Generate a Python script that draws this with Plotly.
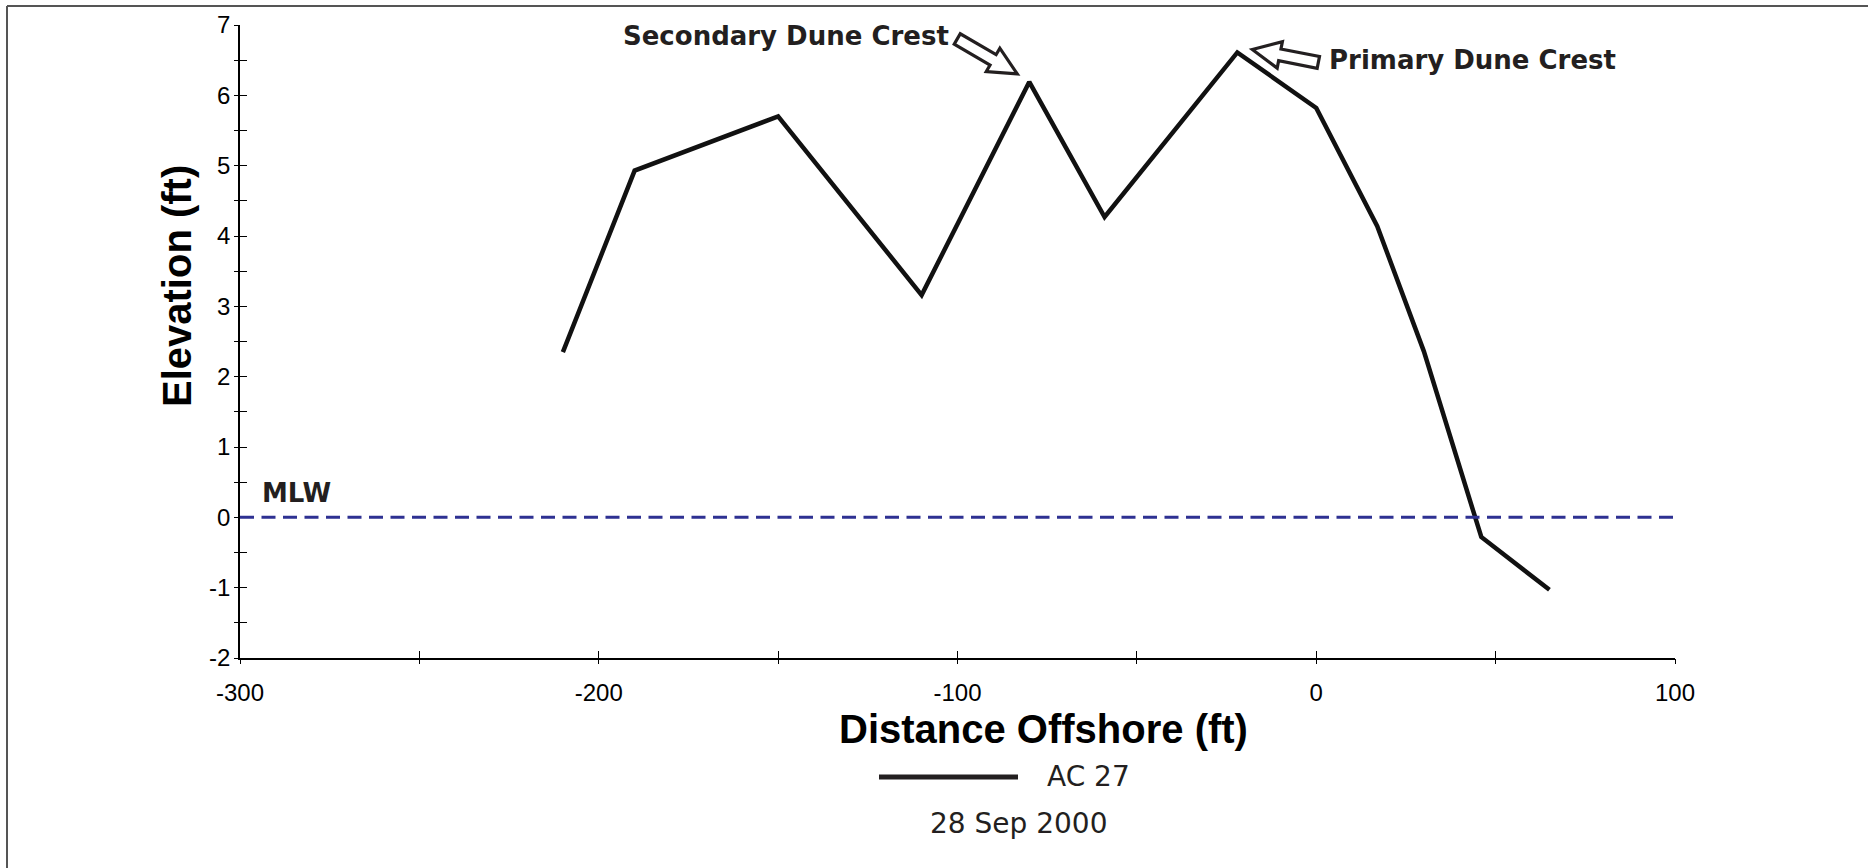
import math
import plotly.graph_objects as go

# profile AC 27, 28 Sep 2000
distance = [-210, -190, -150, -110, -80, -59, -22, 0, 17, 30, 46, 65]
elevation = [2.35, 4.93, 5.70, 3.16, 6.19, 4.27, 6.61, 5.82, 4.14, 2.36, -0.28, -1.03]

mlw_elev = 0
x_range = [-300, 100]
y_range = [-2, 7]
x_ticks = [-300, -200, -100, 0, 100]
x_labels = ["-300", "-200", "-100", "0", "100"]
y_ticks = [-2, -1, 0, 1, 2, 3, 4, 5, 6, 7]
y_labels = ["-2", "-1", "0", "1", "2", "3", "4", "5", "6", "7"]

series_name = "AC 27"
survey_date = "28 Sep 2000"
secondary_idx = 4
primary_idx = 6

W, H = 1868, 868
L, R, T, B = 240, 193, 25, 210
PW, PH = W - L - R, H - T - B
KX = PW / (x_range[1] - x_range[0])  # px per ft
KY = PH / (y_range[1] - y_range[0])
INK = "#231f20"


def xp(px):
    return (px - L) / PW


def yp(py):
    return (H - B - py) / PH


def block_arrow(x, y, tip, tail, head_len=28, head_w=27, shaft_w=12):
    # hollow block arrow, offsets in screen px (y down) from a data point
    tx, ty = tip
    dx, dy = tail[0] - tip[0], tail[1] - tip[1]
    ln = math.hypot(dx, dy)
    ux, uy = -dx / ln, -dy / ln
    nx, ny = -uy, ux
    pts = [
        (tx, ty),
        (tx - ux * head_len + nx * head_w / 2, ty - uy * head_len + ny * head_w / 2),
        (tx - ux * head_len + nx * shaft_w / 2, ty - uy * head_len + ny * shaft_w / 2),
        (tx - ux * ln + nx * shaft_w / 2, ty - uy * ln + ny * shaft_w / 2),
        (tx - ux * ln - nx * shaft_w / 2, ty - uy * ln - ny * shaft_w / 2),
        (tx - ux * head_len - nx * shaft_w / 2, ty - uy * head_len - ny * shaft_w / 2),
        (tx - ux * head_len - nx * head_w / 2, ty - uy * head_len - ny * head_w / 2),
    ]
    path = "M" + " L".join(f"{x + px / KX:.3f},{y - py / KY:.4f}" for px, py in pts) + " Z"
    return dict(type="path", xref="x", yref="y", path=path,
                fillcolor="white", line=dict(color=INK, width=3.2), layer="above")


fig = go.Figure()

fig.add_scatter(
    x=distance, y=elevation,
    mode="lines",
    line=dict(color="#111111", width=4.5),
    name=series_name,
    showlegend=False,
)
# carrier for the overlay axes (outer half of the crossing ticks)
fig.add_scatter(x=distance, y=elevation, xaxis="x2", yaxis="y2", mode="lines",
                line=dict(width=0), opacity=0, hoverinfo="skip", showlegend=False)

shapes = [
    block_arrow(distance[secondary_idx], elevation[secondary_idx], (-12, -8), (-72, -43)),
    block_arrow(distance[primary_idx], elevation[primary_idx], (15, -3), (81, 10)),
    # frame
    dict(type="line", xref="paper", yref="paper", x0=xp(7), x1=xp(7), y0=yp(6), y1=yp(H + 5),
         line=dict(color="#555555", width=2)),
    dict(type="line", xref="paper", yref="paper", x0=xp(7), x1=xp(W + 5), y0=yp(6), y1=yp(6),
         line=dict(color="#555555", width=2)),
    # legend sample
    dict(type="line", xref="paper", yref="paper", x0=xp(879), x1=xp(1018), y0=yp(777), y1=yp(777),
         line=dict(color=INK, width=5)),
]

label_font = dict(family="DejaVu Sans", size=26, color=INK)
legend_font = dict(family="DejaVu Sans", size=28, color=INK)
title_font = dict(family="Liberation Sans", size=40, color="black")
annotations = [
    dict(x=xp(951), y=yp(36), xref="paper", yref="paper", text="<b>Secondary Dune Crest</b>",
         showarrow=False, xanchor="right", yanchor="middle", font=label_font),
    dict(x=xp(1327), y=yp(60), xref="paper", yref="paper", text="<b>Primary Dune Crest</b>",
         showarrow=False, xanchor="left", yanchor="middle", font=label_font),
    dict(x=xp(260), y=yp(493), xref="paper", yref="paper", text="<b>MLW</b>",
         showarrow=False, xanchor="left", yanchor="middle", font=label_font),
    dict(x=xp(1045), y=yp(776), xref="paper", yref="paper", text=series_name,
         showarrow=False, xanchor="left", yanchor="middle", font=legend_font),
    dict(x=xp(1018), y=yp(823), xref="paper", yref="paper", text=survey_date,
         showarrow=False, xanchor="center", yanchor="middle", font=legend_font),
    # axis titles
    dict(x=xp(1043), y=yp(729), xref="paper", yref="paper", text="<b>Distance Offshore (ft)</b>",
         showarrow=False, xanchor="center", yanchor="middle", font=title_font),
    dict(x=xp(177), y=yp(286), xref="paper", yref="paper", text="<b>Elevation (ft)</b>",
         showarrow=False, xanchor="center", yanchor="middle", textangle=-90, font=title_font),
]

axis_common = dict(
    showgrid=False, zeroline=False, automargin=False,
    showline=True, linecolor="black", linewidth=1.5,
    ticks="inside", ticklen=7, tickcolor="black", tickwidth=1.2,
    tickfont=dict(family="Liberation Sans", size=24, color="black"),
)
overlay_common = dict(
    showgrid=False, zeroline=False, automargin=False, showline=False,
    showticklabels=False, ticks="outside", ticklen=5, tickcolor="black", tickwidth=1.2,
)

fig.update_layout(
    width=W, height=H,
    margin=dict(l=L, r=R, t=T, b=B),
    plot_bgcolor="white",
    paper_bgcolor="white",
    showlegend=False,
    hovermode=False,
    shapes=shapes,
    annotations=annotations,
    xaxis=dict(
        **axis_common,
        range=x_range, tickvals=x_ticks, ticktext=x_labels, ticklabelstandoff=12,
        minor=dict(dtick=50, ticks="inside", ticklen=7, tickcolor="black"),
    ),
    yaxis=dict(
        **axis_common,
        range=y_range, tickvals=y_ticks, ticktext=y_labels, ticklabelstandoff=3,
        minor=dict(dtick=0.5, ticks="inside", ticklen=7, tickcolor="black"),
    ),
    xaxis2=dict(
        **overlay_common, overlaying="x", anchor="y", side="bottom",
        range=x_range, tickvals=x_ticks,
        minor=dict(dtick=50, ticks="outside", ticklen=5, tickcolor="black"),
    ),
    yaxis2=dict(
        **overlay_common, overlaying="y", anchor="x", side="left",
        range=y_range, tickvals=y_ticks,
        minor=dict(dtick=0.5, ticks="outside", ticklen=5, tickcolor="black"),
    ),
)

# MLW reference line (added after the shapes list so it is not merged into it)
fig.add_hline(y=mlw_elev, line=dict(color="#2e3192", width=3, dash="14px,7.5px"))

fig.write_html(
    "out.html",
    config={"displayModeBar": False},
    post_script=(
        "document.body.style.margin = '0';"
        "document.body.style.overflow = 'hidden';"
        "document.documentElement.style.overflow = 'hidden';"
    ),
)
